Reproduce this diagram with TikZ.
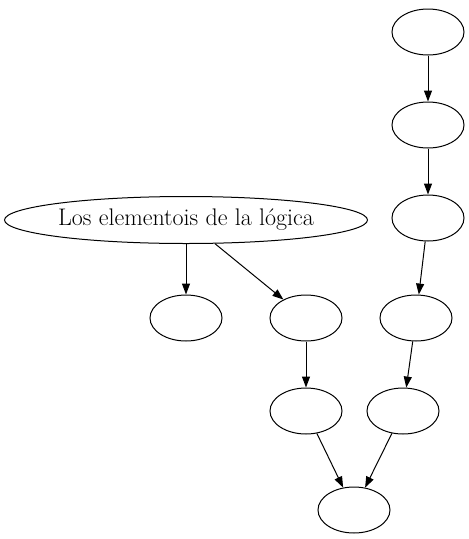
\documentclass[tikz,border=0pt]{standalone}
\usepackage{tikz}
\usetikzlibrary{shapes.geometric}
\usetikzlibrary{arrows.meta}

\tikzset{
	knoten/.style={draw=black, ellipse, line width=1pt, minimum width=72pt, minimum height=46pt, inner sep=0pt},
	pfeil/.style={-{Triangle[length=11pt,width=8pt]}, black, line width=1pt}
}

\begin{document}
\begin{tikzpicture}[x=1pt,y=-1pt]
					\useasboundingbox (0,0) rectangle (469,539);
					\node[knoten] (a) at (428,32){};
					\node[knoten] (b) at (428,125){};
					\node[knoten] (c) at (428,218){};
					\node[knoten, minimum width=363pt, minimum height=47pt] (logica) at (186,220){\fontsize{24}{28}\selectfont Los elementois de la lógica};
					\node[knoten] (d) at (186,318){};
					\node[knoten] (e) at (306,318){};
					\node[knoten] (f) at (416,318){};
					\node[knoten] (g) at (306,411){};
					\node[knoten] (h) at (403,411){};
					\node[knoten] (i) at (354,510){};
		
					\draw[pfeil] (a)--(b);
					\draw[pfeil] (b)--(c);
					\draw[pfeil] (c)--(f);
					\draw[pfeil] (f)--(h);
					\draw[pfeil] (logica.south -| d)--(d);
					\draw[pfeil] (logica)--(e);
					\draw[pfeil] (e)--(g);
					\draw[pfeil] (g)--(i);
					\draw[pfeil] (h)--(i);
				\end{tikzpicture}
\end{document}
